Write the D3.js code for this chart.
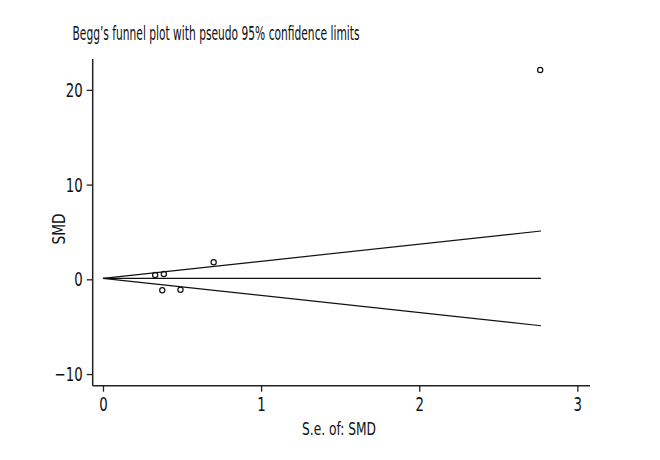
<!DOCTYPE html>
<html><head><meta charset="utf-8">
<script src="https://cdn.jsdelivr.net/npm/d3@7/dist/d3.min.js"></script>
<style>
body{margin:0;background:#fff;}
text{font-family:"Liberation Sans Narrow","DejaVu Sans Condensed","Roboto Condensed",sans-serif;fill:#111;}
</style></head>
<body><svg id="c" width="660" height="460"></svg>
<script>
// Study points (standard error, SMD)
const studySE  = [0.33, 0.385, 0.70, 0.375, 0.49, 2.765];
const studySMD = [0.45, 0.56, 1.80, -1.16, -1.10, 22.1];
// Pseudo 95% confidence limits
const funnelSE    = [0, 2.77];
const upperLimit  = [0.1, 5.1];
const lowerLimit  = [0.1, -4.9];
const pooledLine  = [0.1, 0.1];
const xTicks = [0, 1, 2, 3];
const yTicks = [-10, 0, 10, 20];
const titleText = "Begg\u2019s funnel plot with pseudo 95% confidence limits";
const xTitle = "S.e. of: SMD";
const yTitle = "SMD";

const svg = d3.select("#c");
const x = d3.scaleLinear().domain([-0.065, 3.08]).range([92.7, 590]);
const y = d3.scaleLinear().domain([-11.23, 23.26]).range([385.7, 59]);

// axes
const xAxis = svg.append("g").attr("transform","translate(0,385.7)")
  .call(d3.axisBottom(x).tickValues(xTicks).tickSize(6).tickPadding(5).tickFormat(d3.format("d")));
const yAxis = svg.append("g").attr("transform","translate(92.7,0)")
  .call(d3.axisLeft(y).tickValues(yTicks).tickSize(6).tickPadding(4).tickFormat(d3.format("d")));
[xAxis,yAxis].forEach(a=>{
  a.select(".domain").attr("stroke","#222").attr("stroke-width",1.5);
  a.selectAll(".tick line").attr("stroke","#222").attr("stroke-width",1.3);
  a.selectAll("text").attr("font-size",20).attr("fill","#111")
   .style("font-family",'"Liberation Sans Narrow","DejaVu Sans Condensed",sans-serif')
   .each(function(){
     const w = this.getComputedTextLength();
     d3.select(this).attr("textLength", w*0.74).attr("lengthAdjust","spacingAndGlyphs");
   });
});
xAxis.selectAll(".domain").attr("d", `M${x.range()[0]},0H${x.range()[1]}`);
yAxis.selectAll(".domain").attr("d", `M0,${y.range()[1]}V${y.range()[0]}`);

// funnel lines
const line = d3.line().x(d=>x(d[0])).y(d=>y(d[1]));
[upperLimit, lowerLimit, pooledLine].forEach(arr=>{
  svg.append("path").datum(funnelSE.map((s,i)=>[s,arr[i]]))
    .attr("d", line).attr("fill","none").attr("stroke","#111").attr("stroke-width",1.2);
});

// points
svg.append("g").selectAll("circle").data(studySE.map((s,i)=>[s,studySMD[i]])).join("circle")
  .attr("cx",d=>x(d[0])).attr("cy",d=>y(d[1])).attr("r",2.6)
  .attr("fill","none").attr("stroke","#111").attr("stroke-width",1.2);

// titles
svg.append("text").attr("x",72.5).attr("y",40).attr("font-size",19)
  .attr("textLength",287).attr("lengthAdjust","spacingAndGlyphs").text(titleText);
svg.append("text").attr("x",339).attr("y",435).attr("text-anchor","middle").attr("font-size",17.5)
  .attr("textLength",74).attr("lengthAdjust","spacingAndGlyphs").text(xTitle);
svg.append("text").attr("transform","translate(65,229) rotate(-90)").attr("text-anchor","middle")
  .attr("font-size",17.5).attr("textLength",31).attr("lengthAdjust","spacingAndGlyphs").text(yTitle);
</script></body></html>
